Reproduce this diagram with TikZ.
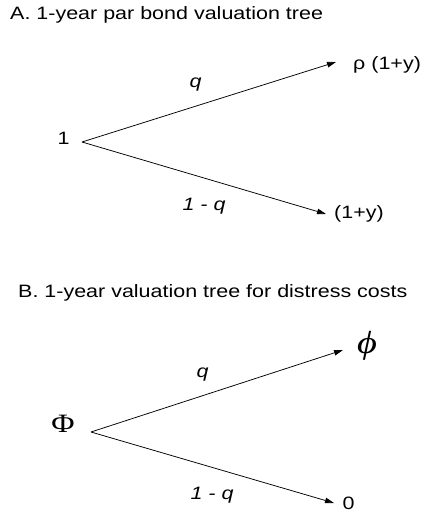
\documentclass[tikz,border=0pt]{standalone}
\usepackage{fontspec}
\setmainfont[FakeStretch=1.2]{Liberation Sans}
\newfontfamily\serifphi[FakeStretch=1.2]{Liberation Serif}
\usetikzlibrary{arrows.meta}
\begin{document}
\begin{tikzpicture}[x=1pt,y=-1pt,
  txt/.style={inner sep=0pt,font=\fontsize{17.9}{20}\selectfont},
  lbl/.style={inner sep=0pt,font=\fontsize{17.9}{20}\selectfont\itshape},
  branch/.style={line width=0.75pt,-{Triangle[length=9pt,width=5.5pt]}}]
\useasboundingbox (0,0) rectangle (420,513);
% Panel A
\node[txt,anchor=base west] (tA) at (10,19.5) {A. 1-year par bond valuation tree};
\node[txt,anchor=base] (one) at (63.5,145) {1};
\coordinate (vA) at (82,142);
\coordinate (upA) at (336,62);
\coordinate (loA) at (326,214);
\node[txt,anchor=base west] (rho) at (353,70) {ρ (1+y)};
\node[txt,anchor=base west] (oy) at (334,218) {(1+y)};
\node[lbl,anchor=base] (qA) at (195.5,88) {q};
\node[lbl,anchor=base] (nqA) at (204,210) {1 - q};
\draw[branch] (vA) -- (upA);
\draw[branch] (vA) -- (loA);
% Panel B
\node[txt,anchor=base west] (tB) at (18,297) {B. 1-year valuation tree for distress costs};
\node[inner sep=0pt,font=\fontsize{26.5}{28}\serifphi] (Phi) at (63,423.5) {Φ};
\coordinate (vB) at (91,432);
\coordinate (upB) at (343,350);
\coordinate (loB) at (334,503);
\node[inner sep=0pt,font=\fontsize{32}{36}\serifphi\itshape] (phi) at (367,346) {ϕ};
\node[txt] (zero) at (348.5,503.5) {0};
\node[lbl,anchor=base] (qB) at (202.5,377) {q};
\node[lbl,anchor=base] (nqB) at (212,499) {1 - q};
\draw[branch] (vB) -- (upB);
\draw[branch] (vB) -- (loB);
\end{tikzpicture}
\end{document}
